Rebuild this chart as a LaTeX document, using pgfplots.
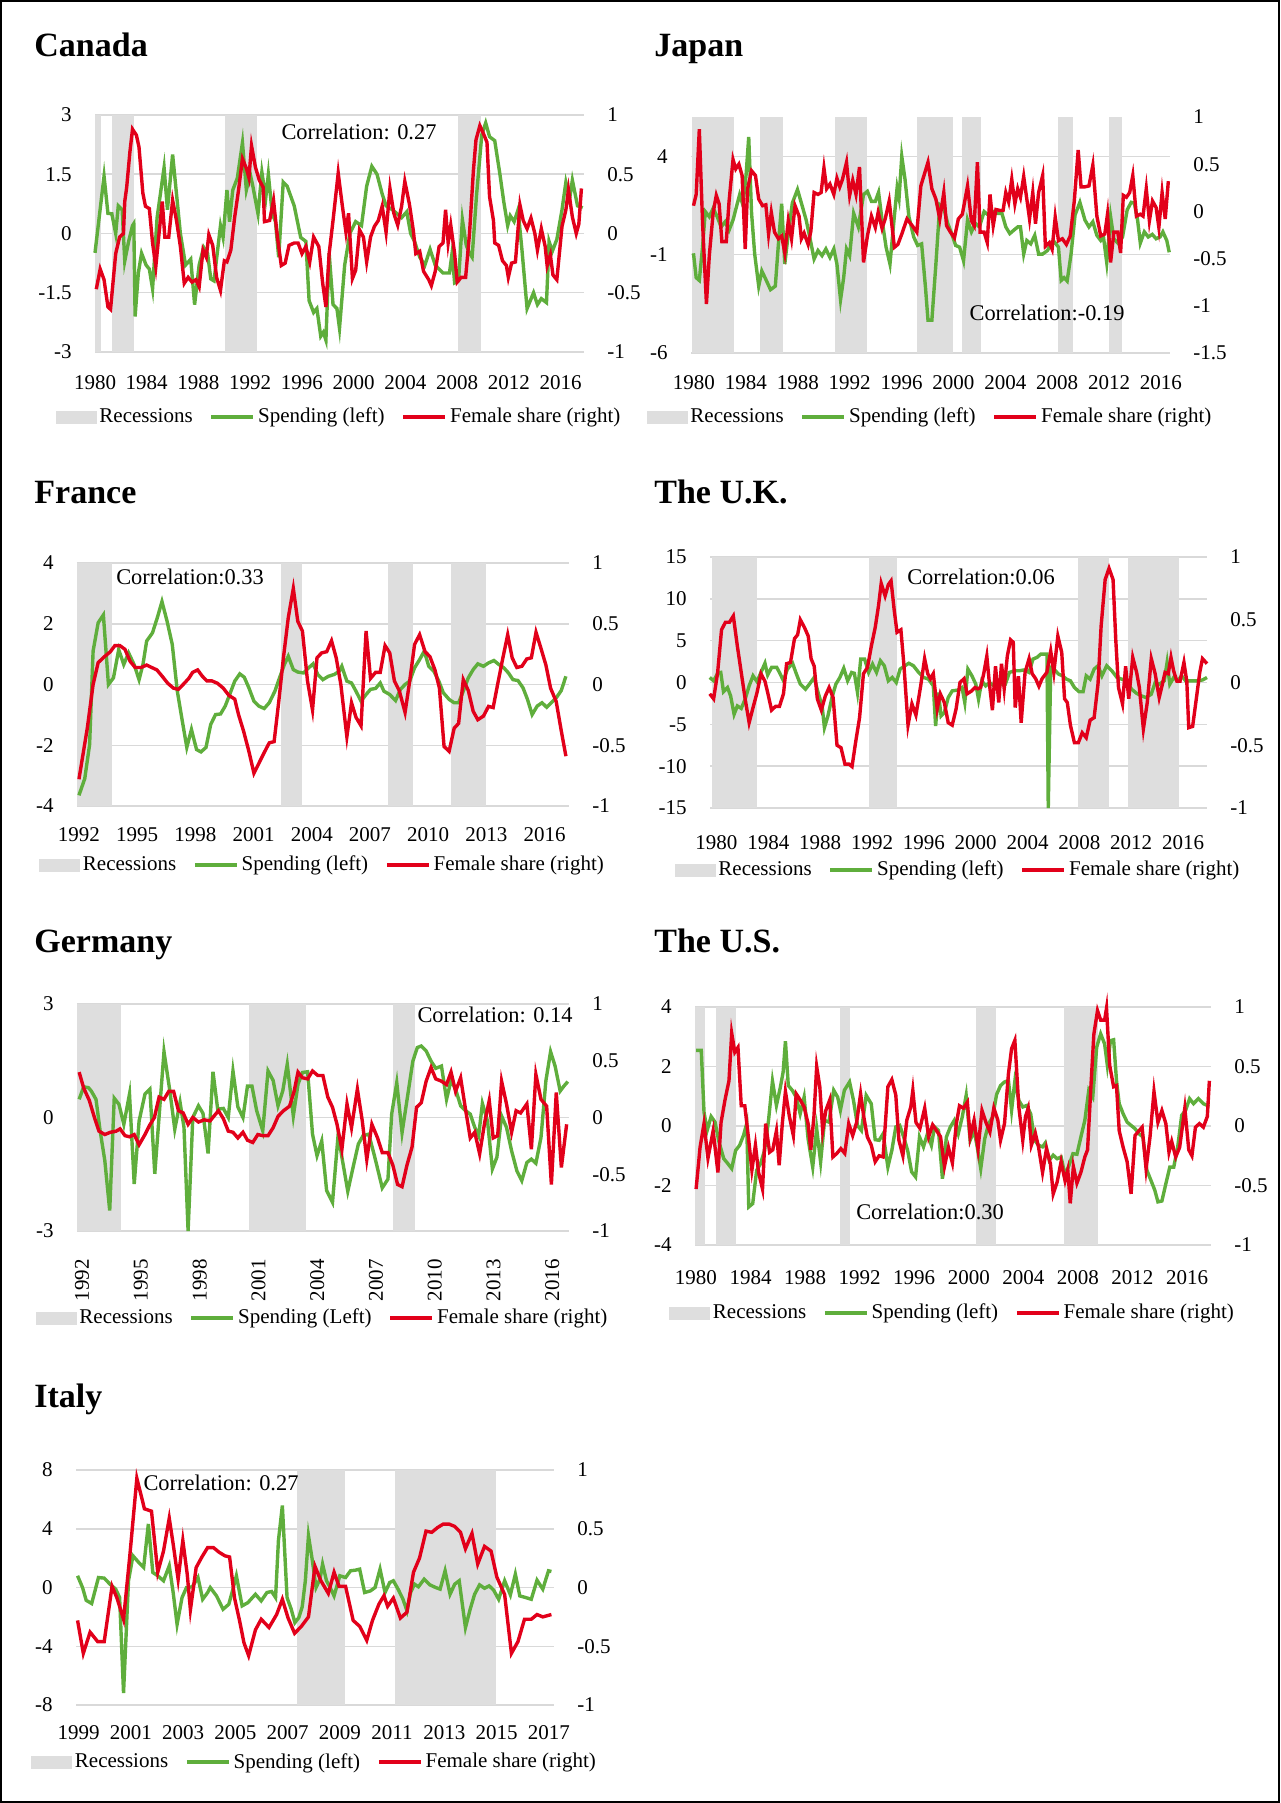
\documentclass[border=0pt]{standalone}
\usepackage{fontspec}
\setmainfont{Liberation Serif}
\usepackage{pgfplots}
\pgfplotsset{compat=1.18}

\definecolor{spendgreen}{HTML}{5FAE3C}
\definecolor{sharered}{HTML}{E2001A}
\definecolor{recgray}{HTML}{DEDEDE}
\definecolor{gridgray}{HTML}{D9D9D9}

\newcommand\tf{\fontsize{10.5}{12.5}\selectfont}
\newcommand\ttl{\fontsize{17}{20}\selectfont\bfseries}
\newcommand\corr{\fontsize{11.2}{13}\selectfont}
% recession band: start, end, ymin, ymax
\newcommand\rec[4]{\addplot[recband] coordinates {(#1,#3) (#1,#4) (#2,#4) (#2,#3)};}

\pgfplotsset{
  panel/.style={scale only axis, anchor=north west, clip=false,
    axis line style={draw=none}, major tick length=0pt,
    tick style={draw=none}, ticklabel style={font=\tf}},
  leftax/.style={panel, ymajorgrids, grid style={gridgray, line width=0.75pt},
    ytick pos=left, yticklabel pos=left, xtick pos=bottom,
    yticklabel style={anchor=east, inner sep=0pt, xshift=-11.5pt}},
  rightax/.style={panel, hide x axis, ytick pos=right, yticklabel pos=right,
    yticklabel style={anchor=west, inner sep=0pt, xshift=11.5pt},
    legend columns=3,
    legend image code/.code={\draw[##1] (0pt,0pt) -- (21pt,0pt);},
    legend style={draw=none, fill=none, font=\tf, inner sep=0pt,
      nodes={inner sep=1.5pt}, anchor=center,
      /tikz/every even column/.append style={column sep=7pt}}},
  recband/.style={fill=recgray, draw=none, forget plot},
  spend/.style={draw=spendgreen, line width=1.7pt},
  share/.style={draw=sharered, line width=1.7pt},
}

\newcommand\reclegend{%
  \addlegendimage{legend image code/.code={\fill[recgray] (0pt,-3pt) rectangle (20pt,3pt);}}
  \addlegendentry{Recessions}}

\begin{document}
\begin{tikzpicture}
\useasboundingbox (0,0) rectangle (640pt,-901.5pt);

% ================= Canada =================
\begin{axis}[leftax, at={(47.5pt,-57.5pt)}, width=244.5pt, height=118.5pt,
  xmin=1980, xmax=2017.8, ymin=-3, ymax=3,
  xtick={1980,1984,1988,1992,1996,2000,2004,2008,2012,2016},
  xticklabels={1980,1984,1988,1992,1996,2000,2004,2008,2012,2016},
  xticklabel style={anchor=center, yshift=-15.5pt},
  ytick={-3,-1.5,0,1.5,3}, yticklabels={-3,-1.5,0,1.5,3}]
\rec{1980.0}{1980.5}{-3}{3}
\rec{1981.3}{1983.0}{-3}{3}
\rec{1990.05}{1992.55}{-3}{3}
\rec{2008.05}{2009.85}{-3}{3}
\addplot[spend] coordinates {
(1980.0,-0.49)(1980.7,1.45)(1981.0,0.51)(1981.3,0.50)(1981.6,0.0)(1981.8,0.70)
(1982.1,0.60)(1982.3,-0.70)(1982.6,-0.20)(1982.9,0.20)(1983.0,0.25)(1983.1,-2.10)
(1983.35,-1.0)(1983.6,-0.5)(1983.95,-0.8)(1984.2,-0.9)(1984.45,-1.4)(1984.8,0.4)
(1985.34,1.67)(1985.6,0.6)(1986.0,2.0)(1986.6,0.0)(1987.0,-0.8)(1987.4,-0.65)
(1987.7,-1.8)(1988.05,-0.8)(1988.4,-0.35)(1988.7,-0.5)(1988.95,-1.15)(1989.2,-1.2)
(1989.7,0.2)(1989.9,-0.1)(1990.2,1.1)(1990.4,0.3)(1990.65,1.1)(1991.0,1.4)
(1991.4,2.3)(1991.7,1.1)(1992.0,1.5)(1992.2,1.2)(1992.6,0.5)(1992.9,1.55)
(1993.2,0.9)(1993.4,1.5)(1993.7,0.5)(1993.95,0.3)(1994.2,-0.6)(1994.55,1.3)
(1994.85,1.2)(1995.4,0.7)(1995.9,-0.1)(1996.3,-0.2)(1996.55,-1.7)(1996.9,-2.0)
(1997.15,-1.9)(1997.45,-2.6)(1997.65,-2.5)(1997.85,-2.7)(1998.1,-0.5)(1998.4,-1.8)
(1998.7,-1.9)(1998.9,-2.4)(1999.3,-0.8)(1999.7,0.0)(2000.15,0.3)(2000.6,0.2)
(2001.0,1.2)(2001.4,1.7)(2001.8,1.5)(2002.2,1.0)(2002.5,0.7)(2003.0,0.6)
(2003.35,0.5)(2003.7,0.4)(2004.1,0.55)(2004.4,0.0)(2004.7,-0.2)(2005.1,-0.6)
(2005.5,-0.8)(2005.9,-0.4)(2006.3,-0.8)(2006.6,-0.9)(2006.9,-1.0)(2007.4,-1.0)
(2007.6,-0.5)(2007.8,-1.25)(2008.1,-1.2)(2008.4,0.35)(2008.7,-0.3)(2008.95,-0.5)
(2009.15,-0.6)(2009.5,1.0)(2009.9,2.5)(2010.2,2.8)(2010.5,2.45)(2010.9,2.35)
(2011.3,1.5)(2011.6,0.8)(2011.9,0.2)(2012.1,0.45)(2012.4,0.3)(2012.7,0.6)
(2013.0,-0.4)(2013.4,-1.9)(2013.9,-1.5)(2014.2,-1.8)(2014.5,-1.65)(2014.9,-1.75)
(2015.1,-0.2)(2015.35,-0.45)(2015.7,-0.15)(2016.1,0.6)(2016.4,1.3)(2016.7,0.9)
(2016.9,1.35)(2017.3,0.7)(2017.7,0.65)};
\end{axis}
\begin{axis}[rightax, at={(47.5pt,-57.5pt)}, width=244.5pt, height=118.5pt,
  xmin=1980, xmax=2017.8, ymin=-1, ymax=1,
  ytick={-1,-0.5,0,0.5,1}, yticklabels={-1,-0.5,0,0.5,1},
  legend style={at={(axis description cs:0.5,-0.274)}}]
\reclegend
\addlegendimage{spend}\addlegendentry{Spending (left)}
\addplot[share] coordinates {
(1980.1,-0.47)(1980.4,-0.30)(1980.7,-0.39)(1981.0,-0.62)(1981.2,-0.64)(1981.6,-0.17)
(1981.9,-0.03)(1982.2,0.00)(1982.3,0.27)(1982.45,0.39)(1982.7,0.69)(1982.9,0.88)
(1983.2,0.83)(1983.4,0.73)(1983.7,0.34)(1983.9,0.23)(1984.2,0.21)(1984.45,-0.08)
(1984.7,-0.28)(1984.95,0.00)(1985.2,0.27)(1985.4,-0.03)(1985.7,-0.03)(1986.0,0.28)
(1986.3,0.11)(1986.6,-0.11)(1986.9,-0.42)(1987.2,-0.37)(1987.5,-0.41)(1987.8,-0.39)
(1988.05,-0.45)(1988.35,-0.14)(1988.6,-0.20)(1988.8,-0.01)(1989.1,-0.10)(1989.4,-0.37)
(1989.7,-0.48)(1990.0,-0.23)(1990.2,-0.24)(1990.5,-0.14)(1990.8,0.14)(1991.1,0.37)
(1991.4,0.63)(1991.7,0.55)(1991.9,0.47)(1992.1,0.74)(1992.4,0.56)(1992.7,0.45)
(1993.0,0.39)(1993.1,0.10)(1993.5,0.11)(1993.8,0.28)(1994.1,-0.03)(1994.4,-0.27)
(1994.7,-0.25)(1995.0,-0.10)(1995.4,-0.08)(1995.7,-0.08)(1996.0,-0.17)(1996.3,-0.11)
(1996.6,-0.24)(1996.9,-0.03)(1997.3,-0.11)(1997.6,-0.42)(1997.85,-0.62)(1998.1,-0.17)
(1998.4,0.11)(1998.8,0.51)(1999.1,0.25)(1999.4,0.01)(1999.6,0.17)(1999.9,-0.38)
(2000.15,-0.31)(2000.45,0.03)(2000.75,-0.03)(2001.0,-0.24)(2001.3,-0.03)(2001.6,0.06)
(2001.9,0.11)(2002.2,0.23)(2002.5,0.01)(2002.8,0.38)(2003.1,0.17)(2003.4,0.07)
(2003.7,0.23)(2003.95,0.44)(2004.3,0.25)(2004.6,0.03)(2004.8,-0.17)(2005.1,-0.15)
(2005.4,-0.32)(2005.8,-0.39)(2006.0,-0.44)(2006.3,-0.32)(2006.6,-0.11)(2006.9,-0.08)
(2007.1,0.20)(2007.3,-0.08)(2007.5,0.07)(2007.8,-0.17)(2008.0,-0.41)(2008.3,-0.37)
(2008.65,-0.37)(2008.95,0.00)(2009.25,0.53)(2009.45,0.79)(2009.75,0.91)(2010.0,0.85)
(2010.3,0.77)(2010.5,0.31)(2010.8,0.11)(2010.9,-0.08)(2011.2,-0.10)(2011.5,-0.23)
(2011.8,-0.27)(2011.95,-0.37)(2012.2,-0.25)(2012.5,-0.24)(2012.85,0.24)(2013.1,0.11)
(2013.4,0.04)(2013.7,0.13)(2014.0,0.00)(2014.2,-0.14)(2014.5,0.04)(2014.8,-0.11)
(2014.95,-0.27)(2015.2,-0.18)(2015.4,-0.35)(2015.7,-0.39)(2016.1,0.06)(2016.4,0.20)
(2016.6,0.37)(2016.9,0.14)(2017.2,0.00)(2017.4,0.08)(2017.6,0.38)};
\addlegendentry{Female share (right)}
\end{axis}

% ================= Japan =================
\begin{axis}[leftax, at={(345.5pt,-58.5pt)}, width=239.5pt, height=118pt,
  xmin=1979.77, xmax=2016.7, ymin=-6, ymax=6,
  xtick={1980,1984,1988,1992,1996,2000,2004,2008,2012,2016},
  xticklabels={1980,1984,1988,1992,1996,2000,2004,2008,2012,2016},
  xticklabel style={anchor=center, yshift=-15pt},
  ytick={-6,-1,4}, yticklabels={-6,-1,4}]
\rec{1979.86}{1983.07}{-6}{6}
\rec{1985.08}{1986.88}{-6}{6}
\rec{1990.87}{1993.37}{-6}{6}
\rec{1997.18}{1999.93}{-6}{6}
\rec{2000.69}{2002.12}{-6}{6}
\rec{2008.07}{2009.2}{-6}{6}
\rec{2012.03}{2012.98}{-6}{6}
\addplot[spend] coordinates {
(1979.96,-0.93)(1980.17,-2.17)(1980.41,-2.31)(1980.66,-0.62)(1980.87,1.19)(1981.18,0.93)
(1981.48,1.36)(1981.79,0.93)(1982.09,0.41)(1982.40,0.67)(1982.70,0.24)(1983.01,0.76)
(1983.31,1.53)(1983.52,2.05)(1983.77,1.53)(1984.01,3.0)(1984.22,4.98)(1984.44,1.10)
(1984.68,-0.97)(1984.99,-2.6)(1985.23,-1.83)(1985.54,-2.26)(1985.90,-2.78)(1986.27,-2.6)
(1986.51,-0.45)(1986.76,1.59)(1987.00,-1.48)(1987.27,0.07)(1987.58,1.62)(1987.98,2.31)
(1988.28,1.62)(1988.65,0.76)(1988.95,-0.19)(1989.26,-1.22)(1989.56,-0.79)(1989.87,-1.05)
(1990.17,-0.71)(1990.48,-1.14)(1990.78,-0.71)(1991.02,-1.48)(1991.30,-3.29)(1991.54,-2.17)
(1991.76,-0.71)(1992.00,-1.05)(1992.31,1.10)(1992.67,0.41)(1993.07,2.05)(1993.37,2.22)
(1993.68,1.71)(1993.98,1.71)(1994.23,2.17)(1994.50,0.76)(1994.81,-0.62)(1995.11,-1.48)
(1995.42,0.76)(1995.66,2.40)(1995.81,1.88)(1996.02,4.0)(1996.27,2.83)(1996.57,0.93)
(1996.94,-0.10)(1997.24,-0.53)(1997.55,-0.45)(1997.85,-2.69)(1998.04,-4.33)(1998.34,-4.33)
(1998.65,-1.48)(1998.95,1.53)(1999.26,1.36)(1999.56,0.59)(1999.87,0.07)(2000.17,-0.53)
(2000.48,-0.62)(2000.78,-1.31)(2001.09,0.76)(2001.39,0.16)(2001.70,0.59)(2002.00,0.41)
(2002.37,1.19)(2002.67,1.02)(2003.04,1.19)(2003.43,1.10)(2003.74,1.10)(2004.04,0.41)
(2004.35,0.07)(2004.65,0.24)(2004.96,0.41)(2005.17,0.41)(2005.42,-0.97)(2005.66,-0.28)
(2005.96,-0.45)(2006.27,-0.02)(2006.57,-0.97)(2006.88,-0.97)(2007.25,-0.79)(2007.70,-0.28)
(2008.10,-0.62)(2008.31,-2.31)(2008.53,-2.17)(2008.77,-2.34)(2009.07,-0.97)(2009.38,1.02)
(2009.75,1.66)(2010.14,0.76)(2010.45,0.41)(2010.75,0.67)(2011.06,-0.02)(2011.36,-0.28)
(2011.57,-0.10)(2011.82,-1.40)(2012.12,0.93)(2012.37,-0.19)(2012.73,-0.45)(2013.04,-0.10)
(2013.40,1.28)(2013.71,1.66)(2013.95,1.62)(2014.20,0.76)(2014.41,-0.41)(2014.72,0.16)
(2015.02,-0.10)(2015.33,0.03)(2015.63,-0.19)(2015.93,-0.10)(2016.15,0.16)(2016.45,-0.28)
(2016.64,-0.88)};
\end{axis}
\begin{axis}[rightax, at={(345.5pt,-58.5pt)}, width=239.5pt, height=118pt,
  xmin=1979.77, xmax=2016.7, ymin=-1.5, ymax=1,
  ytick={-1.5,-1,-0.5,0,0.5,1}, yticklabels={-1.5,-1,-0.5,0,0.5,1},
  legend style={at={(axis description cs:0.5,-0.271)}}]
\reclegend
\addlegendimage{spend}\addlegendentry{Spending (left)}
\addplot[share] coordinates {
(1979.96,0.06)(1980.17,0.18)(1980.41,0.87)(1980.66,-0.12)(1980.96,-0.98)(1981.18,-0.47)
(1981.48,-0.01)(1981.72,0.17)(1981.94,0.08)(1982.15,-0.32)(1982.49,-0.32)(1982.70,0.10)
(1983.01,0.55)(1983.22,0.45)(1983.46,0.50)(1983.71,0.38)(1983.95,-0.40)(1984.13,0.24)
(1984.44,0.43)(1984.74,0.38)(1984.99,0.13)(1985.29,0.06)(1985.54,0.07)(1985.75,-0.24)
(1985.96,-0.01)(1986.21,-0.22)(1986.51,-0.29)(1986.76,-0.26)(1987.00,-0.44)(1987.27,-0.10)
(1987.52,-0.29)(1987.79,0.06)(1988.10,-0.05)(1988.28,-0.29)(1988.49,-0.23)(1988.80,-0.35)
(1989.01,-0.21)(1989.26,0.20)(1989.56,0.18)(1989.80,0.20)(1990.02,0.46)(1990.23,0.24)
(1990.48,0.29)(1990.78,0.18)(1991.02,0.35)(1991.24,0.26)(1991.45,0.34)(1991.76,0.52)
(1992.00,0.17)(1992.24,0.33)(1992.49,0.18)(1992.76,0.47)(1993.07,-0.54)(1993.37,-0.26)
(1993.68,-0.05)(1993.98,-0.17)(1994.20,-0.01)(1994.50,-0.18)(1994.74,-0.08)(1995.05,0.11)
(1995.45,-0.38)(1995.72,-0.35)(1996.02,-0.24)(1996.42,-0.08)(1996.82,-0.15)(1997.18,-0.22)
(1997.49,0.27)(1997.73,0.38)(1998.04,0.52)(1998.34,0.24)(1998.65,0.13)(1998.95,-0.08)
(1999.26,0.20)(1999.47,-0.15)(1999.77,-0.22)(2000.08,-0.28)(2000.38,-0.08)(2000.69,-0.03)
(2001.09,0.27)(2001.39,-0.10)(2001.60,-0.15)(2001.85,0.52)(2002.06,-0.22)(2002.37,-0.22)
(2002.61,-0.33)(2002.82,0.18)(2003.07,-0.15)(2003.28,0.02)(2003.59,0.01)(2003.83,0.01)
(2004.04,0.20)(2004.26,0.10)(2004.50,0.34)(2004.74,0.08)(2004.96,0.24)(2005.17,0.15)
(2005.42,0.37)(2005.66,0.13)(2005.87,-0.08)(2006.12,0.20)(2006.33,-0.13)(2006.57,0.20)
(2006.88,0.38)(2007.09,-0.37)(2007.40,-0.33)(2007.61,-0.40)(2007.85,-0.06)(2008.10,-0.31)
(2008.40,-0.29)(2008.71,-0.35)(2009.01,-0.26)(2009.32,0.11)(2009.62,0.65)(2009.84,0.26)
(2010.14,0.26)(2010.45,0.27)(2010.75,0.49)(2011.06,-0.05)(2011.36,-0.26)(2011.67,-0.24)
(2011.88,-0.03)(2012.12,-0.54)(2012.37,-0.22)(2012.67,-0.22)(2012.89,-0.44)(2013.10,0.17)
(2013.34,0.15)(2013.59,0.20)(2013.83,0.38)(2014.11,-0.05)(2014.41,-0.03)(2014.62,-0.05)
(2014.87,0.24)(2015.11,-0.10)(2015.35,0.11)(2015.63,0.04)(2015.84,-0.17)(2016.09,0.20)
(2016.33,-0.08)(2016.57,0.32)};
\addlegendentry{Female share (right)}
\end{axis}

% ================= France =================
\begin{axis}[leftax, at={(38.5pt,-281.5pt)}, width=246pt, height=121.5pt,
  xmin=1991.9, xmax=2017.26, ymin=-4, ymax=4,
  xtick={1992,1995,1998,2001,2004,2007,2010,2013,2016},
  xticklabels={1992,1995,1998,2001,2004,2007,2010,2013,2016},
  xticklabel style={anchor=center, yshift=-14.5pt},
  ytick={-4,-2,0,2,4}, yticklabels={-4,-2,0,2,4}]
\rec{1991.9}{1993.72}{-4}{4}
\rec{2002.4}{2003.48}{-4}{4}
\rec{2007.92}{2009.2}{-4}{4}
\rec{2011.18}{2013.0}{-4}{4}
\addplot[spend] coordinates {
(1992.0,-3.65)(1992.3,-3.1)(1992.55,-1.98)(1992.73,1.1)(1992.99,2.03)(1993.26,2.29)
(1993.52,0.0)(1993.78,0.22)(1994.05,1.15)(1994.31,0.66)(1994.56,1.04)(1994.84,0.66)
(1995.1,0.16)(1995.3,0.66)(1995.49,1.43)(1995.79,1.70)(1996.04,2.2)(1996.28,2.73)
(1996.54,2.09)(1996.81,1.32)(1997.07,-0.22)(1997.33,-1.21)(1997.56,-2.07)(1997.8,-1.48)
(1998.06,-2.14)(1998.29,-2.22)(1998.55,-2.07)(1998.79,-1.32)(1999.04,-0.99)(1999.3,-0.97)
(1999.54,-0.71)(1999.77,-0.33)(2000.03,0.11)(2000.29,0.35)(2000.52,0.24)(2000.76,-0.11)
(2001.02,-0.55)(2001.27,-0.71)(2001.55,-0.79)(2001.81,-0.60)(2002.1,-0.22)(2002.34,0.22)
(2002.59,0.66)(2002.79,0.93)(2003.05,0.49)(2003.28,0.41)(2003.58,0.38)(2003.84,0.55)
(2004.07,0.68)(2004.31,0.33)(2004.57,0.16)(2004.86,0.27)(2005.16,0.33)(2005.42,0.44)
(2005.55,0.60)(2005.81,0.11)(2006.05,0.05)(2006.28,-0.22)(2006.54,-0.55)(2006.8,-0.33)
(2007.03,-0.16)(2007.29,-0.13)(2007.53,0.05)(2007.72,-0.22)(2008.02,-0.33)(2008.32,-0.53)
(2008.57,-0.16)(2008.81,0.0)(2009.05,0.11)(2009.3,0.55)(2009.56,0.82)(2009.8,1.10)
(2010.03,0.60)(2010.29,0.44)(2010.55,0.11)(2010.78,-0.27)(2011.08,-0.49)(2011.34,-0.60)
(2011.57,-0.60)(2011.81,-0.22)(2012.07,0.22)(2012.32,0.49)(2012.56,0.68)(2012.85,0.60)
(2013.11,0.71)(2013.39,0.79)(2013.64,0.66)(2013.9,0.55)(2014.14,0.38)(2014.37,0.16)
(2014.63,0.13)(2014.89,-0.11)(2015.12,-0.49)(2015.36,-0.99)(2015.62,-0.71)(2015.87,-0.60)
(2016.11,-0.75)(2016.35,-0.60)(2016.6,-0.44)(2016.86,-0.20)(2017.1,0.27)};
\end{axis}
\begin{axis}[rightax, at={(38.5pt,-281.5pt)}, width=246pt, height=121.5pt,
  xmin=1991.9, xmax=2017.26, ymin=-1, ymax=1,
  ytick={-1,-0.5,0,0.5,1}, yticklabels={-1,-0.5,0,0.5,1},
  legend style={at={(axis description cs:0.5,-0.243)}}]
\reclegend
\addlegendimage{spend}\addlegendentry{Spending (left)}
\addplot[share] coordinates {
(1992.0,-0.78)(1992.43,-0.36)(1992.73,0.0)(1992.99,0.18)(1993.32,0.23)(1993.62,0.27)
(1993.85,0.32)(1994.11,0.32)(1994.37,0.29)(1994.64,0.19)(1994.9,0.14)(1995.2,0.14)
(1995.49,0.16)(1995.75,0.14)(1996.02,0.12)(1996.28,0.07)(1996.58,0.01)(1996.87,-0.03)
(1997.13,-0.04)(1997.37,0.0)(1997.66,0.05)(1997.86,0.10)(1998.12,0.12)(1998.35,0.07)
(1998.59,0.03)(1998.85,0.03)(1999.14,0.01)(1999.44,-0.03)(1999.73,-0.09)(2000.03,-0.12)
(2000.23,-0.25)(2000.48,-0.38)(2000.76,-0.55)(2001.02,-0.73)(2001.27,-0.65)(2001.55,-0.56)
(2001.81,-0.48)(2002.06,-0.47)(2002.3,-0.14)(2002.54,0.22)(2002.79,0.55)(2003.05,0.79)
(2003.28,0.52)(2003.52,0.44)(2003.78,0.03)(2004.04,-0.21)(2004.27,0.22)(2004.51,0.26)
(2004.77,0.27)(2005.02,0.36)(2005.26,0.22)(2005.5,0.0)(2005.81,-0.43)(2006.05,-0.15)
(2006.28,-0.27)(2006.54,-0.34)(2006.8,0.44)(2007.03,0.05)(2007.29,0.10)(2007.53,0.10)
(2007.78,0.32)(2008.02,0.26)(2008.26,0.03)(2008.51,-0.05)(2008.81,-0.23)(2009.05,0.03)
(2009.3,0.33)(2009.56,0.41)(2009.84,0.27)(2010.09,0.23)(2010.35,0.12)(2010.58,-0.03)
(2010.82,-0.51)(2011.08,-0.55)(2011.34,-0.36)(2011.57,-0.32)(2011.81,0.04)(2012.07,-0.05)
(2012.32,-0.22)(2012.56,-0.29)(2012.85,-0.26)(2013.11,-0.18)(2013.35,-0.19)(2013.58,0.0)
(2013.84,0.21)(2014.1,0.41)(2014.33,0.22)(2014.57,0.14)(2014.83,0.15)(2015.08,0.21)
(2015.32,0.22)(2015.56,0.43)(2015.81,0.30)(2016.07,0.16)(2016.31,-0.03)(2016.6,-0.14)
(2016.86,-0.38)(2017.1,-0.59)};
\addlegendentry{Female share (right)}
\end{axis}

% ================= The U.K. =================
\begin{axis}[leftax, at={(355pt,-278.5pt)}, width=248.5pt, height=125.5pt,
  xmin=1979.5, xmax=2017.85, ymin=-15, ymax=15,
  xtick={1980,1984,1988,1992,1996,2000,2004,2008,2012,2016},
  xticklabels={1980,1984,1988,1992,1996,2000,2004,2008,2012,2016},
  xticklabel style={anchor=center, yshift=-17.5pt},
  ytick={-15,-10,-5,0,5,10,15}, yticklabels={-15,-10,-5,0,5,10,15}]
\rec{1979.69}{1983.13}{-15}{15}
\rec{1991.8}{1993.93}{-15}{15}
\rec{2007.86}{2010.29}{-15}{15}
\rec{2011.72}{2015.68}{-15}{15}
\addplot[spend] coordinates {
(1979.48,0.6)(1979.78,0.2)(1980.09,1.1)(1980.33,1.2)(1980.54,-1.1)(1980.85,-0.6)
(1981.09,-1.6)(1981.36,-3.8)(1981.61,-2.8)(1981.91,-3.1)(1982.21,-2.0)(1982.52,-0.4)
(1982.82,0.8)(1983.13,0.1)(1983.43,1.2)(1983.74,2.3)(1983.95,0.9)(1984.25,1.8)
(1984.65,1.8)(1984.86,1.2)(1985.17,0.2)(1985.47,1.6)(1985.87,2.3)(1986.17,1.0)
(1986.47,-0.2)(1986.87,-0.8)(1987.17,-0.2)(1987.54,0.6)(1987.84,-1.2)(1988.15,-2.8)
(1988.33,-5.4)(1988.6,-4.0)(1988.91,-1.8)(1989.21,-0.2)(1989.52,0.6)(1989.82,1.7)
(1990.12,0.2)(1990.43,1.2)(1990.64,1.1)(1990.88,-1.2)(1991.13,2.8)(1991.43,2.8)
(1991.74,1.2)(1992.04,2.2)(1992.35,1.2)(1992.65,2.6)(1992.95,2.0)(1993.26,0.2)
(1993.56,0.6)(1993.87,0.0)(1994.17,1.6)(1994.54,2.0)(1994.84,2.3)(1995.2,2.0)
(1995.6,1.2)(1995.99,0.6)(1996.36,0.4)(1996.73,-0.4)(1996.91,-5.2)(1997.12,-1.2)
(1997.33,-4.0)(1997.58,-3.6)(1997.88,-1.8)(1998.19,-1.0)(1998.64,-0.9)(1998.95,-0.6)
(1999.16,-2.4)(1999.4,1.6)(1999.71,0.8)(2000.01,-0.2)(2000.22,-2.0)(2000.47,0.2)
(2000.77,-0.4)(2001.08,0.0)(2001.38,-0.4)(2001.68,0.2)(2001.99,-0.2)(2002.29,-0.2)
(2002.6,1.2)(2002.99,1.4)(2003.36,1.4)(2003.72,1.5)(2004.12,1.2)(2004.42,2.8)
(2004.73,3.0)(2005.03,3.4)(2005.33,3.4)(2005.5,3.4)(2005.6,-15.0)(2005.79,1.8)
(2006.03,1.6)(2006.4,1.0)(2006.7,0.8)(2007.01,0.4)(2007.31,0.2)(2007.62,-0.6)
(2007.98,-1.1)(2008.29,-1.1)(2008.53,0.8)(2008.83,0.4)(2009.14,1.6)(2009.44,2.0)
(2009.74,0.8)(2010.11,2.0)(2010.51,1.4)(2010.9,0.6)(2011.27,0.4)(2011.63,0.2)
(2012.03,-0.8)(2012.42,-1.3)(2012.79,-1.6)(2013.15,-1.8)(2013.55,-1.4)(2013.85,0.0)
(2014.16,-0.2)(2014.55,0.2)(2014.77,2.4)(2014.98,-0.2)(2015.28,0.6)(2015.59,0.2)
(2015.89,0.8)(2016.2,0.2)(2016.59,0.2)(2017.05,0.2)(2017.5,0.3)(2017.85,0.6)};
\end{axis}
\begin{axis}[rightax, at={(355pt,-278.5pt)}, width=248.5pt, height=125.5pt,
  xmin=1979.5, xmax=2017.85, ymin=-1, ymax=1,
  ytick={-1,-0.5,0,0.5,1}, yticklabels={-1,-0.5,0,0.5,1},
  legend style={at={(axis description cs:0.5,-0.247)}}]
\reclegend
\addlegendimage{spend}\addlegendentry{Spending (left)}
\addplot[share] coordinates {
(1979.48,-0.09)(1979.78,-0.13)(1980.09,0.08)(1980.39,0.42)(1980.69,0.48)(1981.0,0.48)
(1981.3,0.53)(1981.61,0.29)(1981.91,0.08)(1982.21,-0.13)(1982.52,-0.32)(1982.82,-0.20)
(1983.13,-0.08)(1983.43,0.07)(1983.74,0.01)(1983.95,-0.08)(1984.25,-0.22)(1984.56,-0.19)
(1984.86,-0.19)(1985.17,-0.09)(1985.41,0.15)(1985.71,0.16)(1986.02,0.35)(1986.26,0.38)
(1986.47,0.50)(1986.78,0.44)(1987.08,0.37)(1987.3,0.19)(1987.54,0.13)(1987.78,-0.13)
(1988.09,-0.22)(1988.39,-0.11)(1988.69,-0.04)(1989.0,-0.12)(1989.3,-0.50)(1989.61,-0.52)
(1989.91,-0.65)(1990.22,-0.65)(1990.46,-0.67)(1990.73,-0.48)(1991.04,-0.28)(1991.34,0.07)
(1991.65,0.12)(1991.95,0.29)(1992.25,0.44)(1992.5,0.61)(1992.71,0.79)(1993.01,0.69)
(1993.26,0.78)(1993.47,0.81)(1993.71,0.58)(1993.93,0.40)(1994.23,0.42)(1994.47,0.13)
(1994.78,-0.34)(1995.08,-0.17)(1995.39,-0.26)(1995.75,-0.03)(1996.06,0.19)(1996.3,0.07)
(1996.51,0.03)(1996.73,0.07)(1997.03,-0.21)(1997.27,-0.09)(1997.58,-0.16)(1997.88,-0.32)
(1998.19,-0.34)(1998.49,-0.21)(1998.79,0.00)(1999.1,0.03)(1999.34,-0.09)(1999.65,-0.07)
(1999.95,-0.04)(2000.16,-0.05)(2000.38,-0.04)(2000.62,0.07)(2000.86,0.21)(2001.08,-0.03)
(2001.29,-0.22)(2001.53,0.13)(2001.78,-0.16)(2001.99,0.15)(2002.2,-0.05)(2002.44,0.21)
(2002.69,0.34)(2002.9,0.32)(2003.05,-0.20)(2003.3,0.05)(2003.51,-0.32)(2003.81,0.08)
(2004.12,0.19)(2004.36,0.07)(2004.63,0.03)(2004.88,-0.03)(2005.12,0.03)(2005.49,0.08)
(2005.79,0.25)(2006.03,0.08)(2006.34,0.37)(2006.64,0.24)(2006.86,-0.13)(2007.07,-0.16)
(2007.31,-0.34)(2007.62,-0.48)(2007.92,-0.48)(2008.22,-0.40)(2008.53,-0.44)(2008.83,-0.30)
(2009.14,-0.28)(2009.44,-0.01)(2009.68,0.45)(2009.99,0.82)(2010.29,0.91)(2010.6,0.82)
(2010.81,0.34)(2011.02,-0.04)(2011.33,-0.17)(2011.57,0.13)(2011.81,-0.13)(2012.12,0.20)
(2012.42,0.08)(2012.63,-0.04)(2012.94,-0.37)(2013.24,-0.16)(2013.55,0.19)(2013.85,0.07)
(2014.16,-0.12)(2014.37,-0.03)(2014.61,0.08)(2014.86,0.07)(2015.07,0.20)(2015.28,0.09)
(2015.53,0.01)(2015.77,0.01)(2016.07,0.16)(2016.29,0.01)(2016.44,-0.36)(2016.74,-0.35)
(2017.05,-0.11)(2017.29,0.08)(2017.5,0.19)(2017.85,0.15)};
\addlegendentry{Female share (right)}
\end{axis}

% ================= Germany =================
\begin{axis}[leftax, at={(38.5pt,-502pt)}, width=246pt, height=113.5pt,
  xmin=1991.74, xmax=2016.85, ymin=-3, ymax=3,
  xtick={1992,1995,1998,2001,2004,2007,2010,2013,2016},
  xticklabels={1992,1995,1998,2001,2004,2007,2010,2013,2016},
  xticklabel style={anchor=east, yshift=-10.5pt, rotate=90},
  ytick={-3,0,3}, yticklabels={-3,0,3}]
\rec{1991.74}{1993.99}{-3}{3}
\rec{2000.54}{2003.41}{-3}{3}
\rec{2007.86}{2008.97}{-3}{3}
\addplot[spend] coordinates {
(1991.85,0.48)(1992.08,0.81)(1992.32,0.79)(1992.47,0.70)(1992.71,0.48)(1992.92,-0.35)
(1993.16,-1.14)(1993.41,-2.46)(1993.64,0.51)(1993.88,0.35)(1994.13,-0.18)(1994.42,0.62)
(1994.66,-1.76)(1994.91,-0.09)(1995.21,0.62)(1995.46,0.75)(1995.71,-1.49)(1995.99,0.44)
(1996.18,1.74)(1996.48,0.70)(1996.73,-0.31)(1997.0,0.40)(1997.2,-0.26)(1997.41,-3.0)
(1997.65,0.0)(1997.94,0.31)(1998.17,0.11)(1998.43,-0.95)(1998.68,1.21)(1998.92,0.22)
(1999.21,0.24)(1999.46,0.0)(1999.7,1.23)(1999.95,0.28)(2000.21,0.0)(2000.44,0.83)
(2000.67,0.83)(2000.91,0.18)(2001.22,-0.35)(2001.49,1.23)(2001.75,0.98)(2002.0,0.31)
(2002.24,0.70)(2002.47,1.41)(2002.78,0.04)(2003.02,0.88)(2003.25,1.19)(2003.51,1.21)
(2003.76,-0.44)(2003.99,-1.01)(2004.23,-0.62)(2004.48,-1.93)(2004.78,-2.24)(2005.07,-0.44)
(2005.26,-1.05)(2005.56,-1.95)(2005.85,-1.27)(2006.1,-0.70)(2006.34,-0.48)(2006.63,-0.44)
(2006.92,-1.01)(2007.32,-1.86)(2007.61,-1.63)(2007.8,0.09)(2008.06,0.92)(2008.33,-0.40)
(2008.64,0.66)(2008.88,1.49)(2009.11,1.85)(2009.31,1.89)(2009.56,1.76)(2009.81,1.49)
(2010.05,1.30)(2010.34,1.36)(2010.6,0.48)(2010.83,0.98)(2011.06,0.75)(2011.32,0.31)
(2011.57,0.18)(2011.81,0.09)(2012.04,-0.26)(2012.24,-0.48)(2012.43,0.37)(2012.69,-0.09)
(2012.94,-1.36)(2013.17,-1.05)(2013.41,0.04)(2013.66,-0.26)(2013.92,-0.88)(2014.19,-1.41)
(2014.44,-1.67)(2014.7,-1.19)(2014.93,-1.10)(2015.16,-1.21)(2015.42,-0.53)(2015.67,0.97)
(2015.91,1.74)(2016.14,1.36)(2016.4,0.70)(2016.59,0.83)(2016.79,0.95)};
\end{axis}
\begin{axis}[rightax, at={(38.5pt,-502pt)}, width=246pt, height=113.5pt,
  xmin=1991.74, xmax=2016.85, ymin=-1, ymax=1,
  ytick={-1,-0.5,0,0.5,1}, yticklabels={-1,-0.5,0,0.5,1},
  legend style={at={(axis description cs:0.5,-0.383)}}]
\reclegend
\addlegendimage{spend}\addlegendentry{Spending (Left)}
\addplot[share] coordinates {
(1991.85,0.40)(1992.08,0.26)(1992.37,0.15)(1992.63,0.0)(1992.86,-0.12)(1993.16,-0.15)
(1993.45,-0.13)(1993.74,-0.12)(1993.94,-0.10)(1994.19,-0.16)(1994.42,-0.17)(1994.66,-0.15)
(1994.91,-0.24)(1995.21,-0.15)(1995.44,-0.07)(1995.69,0.0)(1995.93,0.18)(1996.18,0.16)
(1996.42,0.23)(1996.67,0.23)(1996.92,0.06)(1997.16,0.04)(1997.41,-0.06)(1997.65,0.0)
(1997.94,-0.04)(1998.23,-0.02)(1998.53,-0.03)(1998.72,0.01)(1998.96,0.06)(1999.21,-0.01)
(1999.46,-0.12)(1999.7,-0.13)(1999.95,-0.18)(2000.21,-0.13)(2000.44,-0.20)(2000.71,-0.22)
(2000.97,-0.15)(2001.22,-0.16)(2001.49,-0.16)(2001.75,-0.09)(2002.0,0.01)(2002.28,0.06)
(2002.59,0.10)(2002.82,0.23)(2003.02,0.40)(2003.25,0.35)(2003.51,0.34)(2003.76,0.41)
(2004.03,0.37)(2004.29,0.37)(2004.54,0.18)(2004.78,0.09)(2005.01,-0.06)(2005.26,-0.28)
(2005.52,0.12)(2005.75,-0.09)(2006.05,0.25)(2006.3,-0.03)(2006.53,-0.37)(2006.79,-0.06)
(2007.08,-0.18)(2007.32,-0.31)(2007.61,-0.31)(2007.86,-0.42)(2008.1,-0.59)(2008.33,-0.61)
(2008.58,-0.42)(2008.84,-0.26)(2009.07,0.09)(2009.31,0.13)(2009.56,0.32)(2009.81,0.44)
(2010.05,0.34)(2010.34,0.32)(2010.6,0.29)(2010.83,0.40)(2011.06,0.23)(2011.32,0.35)
(2011.57,0.07)(2011.81,-0.18)(2012.04,-0.13)(2012.29,-0.32)(2012.55,-0.04)(2012.78,0.15)
(2012.98,-0.18)(2013.21,-0.16)(2013.41,0.32)(2013.66,0.12)(2013.92,-0.13)(2014.15,0.06)
(2014.38,0.04)(2014.7,0.12)(2014.93,-0.28)(2015.16,0.38)(2015.42,0.16)(2015.71,0.10)
(2015.95,-0.59)(2016.2,0.22)(2016.46,-0.44)(2016.73,-0.06)};
\addlegendentry{Female share (right)}
\end{axis}

% ================= The U.S. =================
\begin{axis}[leftax, at={(347.5pt,-503.5pt)}, width=258pt, height=119pt,
  xmin=1979.93, xmax=2017.76, ymin=-4, ymax=4,
  xtick={1980,1984,1988,1992,1996,2000,2004,2008,2012,2016},
  xticklabels={1980,1984,1988,1992,1996,2000,2004,2008,2012,2016},
  xticklabel style={anchor=center, yshift=-16.5pt},
  ytick={-4,-2,0,2,4}, yticklabels={-4,-2,0,2,4}]
\rec{1979.95}{1980.68}{-4}{4}
\rec{1981.49}{1982.97}{-4}{4}
\rec{1990.53}{1991.26}{-4}{4}
\rec{2000.54}{2001.98}{-4}{4}
\rec{2007.0}{2009.44}{-4}{4}
\addplot[spend] coordinates {
(1980.01,2.54)(1980.39,2.54)(1980.59,0.47)(1980.82,-0.15)(1981.11,0.32)(1981.4,0.13)
(1981.69,-0.54)(1982.04,-1.10)(1982.33,-1.26)(1982.62,-1.43)(1982.91,-0.82)(1983.2,-0.65)
(1983.49,-0.31)(1983.72,0.08)(1983.87,-2.72)(1984.16,-2.61)(1984.45,-1.49)(1984.74,-1.26)
(1985.03,-0.82)(1985.32,0.19)(1985.61,1.51)(1985.9,0.69)(1986.19,1.31)(1986.39,1.81)
(1986.56,2.85)(1986.77,1.36)(1987.06,1.20)(1987.35,0.97)(1987.64,0.41)(1987.93,0.97)
(1988.22,-0.43)(1988.56,-1.38)(1988.85,-0.09)(1989.14,-1.21)(1989.43,0.19)(1989.75,0.13)
(1990.1,1.20)(1990.39,0.97)(1990.59,0.53)(1990.88,1.20)(1991.26,1.48)(1991.55,0.86)
(1991.84,0.02)(1992.13,-0.15)(1992.48,1.03)(1992.85,0.75)(1993.14,-0.46)(1993.43,-0.48)
(1993.72,-0.26)(1994.07,-1.38)(1994.36,-0.82)(1994.65,-0.03)(1994.94,0.02)(1995.23,-0.37)
(1995.52,-0.82)(1995.81,-1.54)(1996.1,-1.71)(1996.39,-0.37)(1996.68,-0.70)(1996.97,-0.26)
(1997.26,-0.65)(1997.49,-0.03)(1997.78,-0.15)(1998.07,-1.77)(1998.36,-0.37)(1998.65,-0.03)
(1998.94,0.19)(1999.23,-0.26)(1999.52,0.30)(1999.81,1.03)(2000.1,-0.48)(2000.39,-0.15)
(2000.62,-0.70)(2000.88,-1.43)(2001.17,-0.43)(2001.46,0.08)(2001.75,0.30)(2002.04,1.06)
(2002.33,1.36)(2002.62,1.48)(2002.91,1.53)(2003.14,0.53)(2003.38,1.51)(2003.67,0.86)
(2003.96,0.64)(2004.25,0.69)(2004.54,0.41)(2004.83,-0.48)(2005.12,-0.65)(2005.41,-0.70)
(2005.61,-0.57)(2005.9,-1.15)(2006.19,-0.98)(2006.48,-1.10)(2006.77,-1.04)(2007.06,-1.66)
(2007.35,-1.32)(2007.64,-0.93)(2007.93,-0.95)(2008.22,-0.37)(2008.51,0.19)(2008.8,1.20)
(2009.09,0.97)(2009.38,2.65)(2009.67,3.10)(2009.96,2.76)(2010.16,2.04)(2010.39,2.87)
(2010.62,2.90)(2010.83,1.53)(2011.03,0.75)(2011.32,0.41)(2011.61,0.13)(2011.9,0.02)
(2012.19,-0.09)(2012.48,-0.26)(2012.77,-0.37)(2013.06,-1.49)(2013.35,-1.82)(2013.64,-2.16)
(2013.87,-2.55)(2014.16,-2.52)(2014.45,-1.94)(2014.74,-1.38)(2015.03,-1.38)(2015.32,-0.70)
(2015.61,0.36)(2015.9,0.53)(2016.19,0.92)(2016.48,0.75)(2016.83,0.92)(2017.2,0.75)
(2017.64,0.66)};
\end{axis}
\begin{axis}[rightax, at={(347.5pt,-503.5pt)}, width=258pt, height=119pt,
  xmin=1979.93, xmax=2017.76, ymin=-1, ymax=1,
  ytick={-1,-0.5,0,0.5,1}, yticklabels={-1,-0.5,0,0.5,1},
  legend style={at={(axis description cs:0.5,-0.286)}}]
\reclegend
\addlegendimage{spend}\addlegendentry{Spending (left)}
\addplot[share] coordinates {
(1980.01,-0.53)(1980.3,-0.18)(1980.59,0.02)(1980.88,-0.27)(1981.26,-0.04)(1981.61,-0.39)
(1981.84,0.03)(1982.13,0.22)(1982.42,0.38)(1982.62,0.78)(1982.85,0.62)(1983.08,0.66)
(1983.32,0.17)(1983.58,0.17)(1983.87,-0.12)(1984.1,-0.37)(1984.36,-0.16)(1984.59,-0.39)
(1984.88,-0.53)(1985.11,0.02)(1985.4,-0.22)(1985.63,-0.20)(1985.9,-0.04)(1986.1,-0.33)
(1986.33,0.02)(1986.56,0.29)(1986.85,0.08)(1987.14,-0.08)(1987.35,0.27)(1987.64,0.22)
(1987.93,0.16)(1988.22,0.02)(1988.42,-0.20)(1988.65,0.08)(1988.85,0.50)(1989.08,0.33)
(1989.29,-0.04)(1989.52,0.13)(1989.81,0.22)(1990.04,-0.26)(1990.33,-0.23)(1990.62,-0.19)
(1990.91,-0.23)(1991.2,0.02)(1991.49,-0.08)(1991.78,0.03)(1992.07,0.27)(1992.3,0.08)
(1992.56,-0.09)(1992.85,-0.16)(1993.14,-0.30)(1993.43,-0.25)(1993.72,-0.26)(1994.07,0.33)
(1994.36,0.39)(1994.65,0.26)(1994.88,-0.12)(1995.17,-0.25)(1995.46,0.05)(1995.75,0.16)
(1995.9,0.30)(1996.13,0.03)(1996.42,-0.02)(1996.77,0.15)(1997.06,-0.09)(1997.35,0.01)
(1997.64,-0.04)(1997.93,-0.09)(1998.22,-0.34)(1998.51,-0.18)(1998.8,-0.31)(1999.09,0.02)
(1999.32,0.17)(1999.61,0.15)(1999.9,0.20)(2000.1,-0.09)(2000.39,0.05)(2000.68,-0.19)
(2000.97,0.13)(2001.26,0.03)(2001.55,-0.05)(2001.84,0.15)(2002.13,0.05)(2002.33,-0.12)
(2002.62,0.02)(2002.91,0.44)(2003.14,0.65)(2003.38,0.72)(2003.67,0.16)(2003.96,-0.12)
(2004.16,0.08)(2004.36,0.15)(2004.59,-0.16)(2004.88,-0.06)(2005.12,-0.18)(2005.41,-0.39)
(2005.7,-0.19)(2005.99,-0.32)(2006.19,-0.57)(2006.48,-0.47)(2006.77,-0.30)(2007.06,-0.46)
(2007.26,-0.37)(2007.44,-0.65)(2007.67,-0.34)(2007.93,-0.48)(2008.22,-0.39)(2008.51,-0.26)
(2008.71,-0.20)(2008.94,0.30)(2009.17,0.77)(2009.44,0.97)(2009.67,0.89)(2009.96,0.89)
(2010.1,0.99)(2010.33,0.51)(2010.62,0.33)(2010.83,0.34)(2011.03,-0.04)(2011.32,-0.18)
(2011.61,-0.30)(2011.9,-0.57)(2012.19,-0.08)(2012.48,-0.04)(2012.71,-0.01)(2013.0,-0.36)
(2013.29,-0.09)(2013.58,0.29)(2013.87,0.03)(2014.16,0.13)(2014.45,0.02)(2014.68,-0.22)
(2014.88,-0.13)(2015.17,-0.26)(2015.46,-0.18)(2015.84,0.15)(2016.13,-0.20)(2016.36,-0.25)
(2016.62,-0.01)(2016.91,0.02)(2017.2,-0.01)(2017.49,0.08)(2017.64,0.38)};
\addlegendentry{Female share (right)}
\end{axis}

% ================= Italy =================
\begin{axis}[leftax, at={(38pt,-735pt)}, width=239pt, height=117.5pt,
  xmin=1998.9, xmax=2017.2, ymin=-8, ymax=8,
  xtick={1999,2001,2003,2005,2007,2009,2011,2013,2015,2017},
  xticklabels={1999,2001,2003,2005,2007,2009,2011,2013,2015,2017},
  xticklabel style={anchor=center, yshift=-14pt},
  ytick={-8,-4,0,4,8}, yticklabels={-8,-4,0,4,8}]
\rec{2007.36}{2009.19}{-8}{8}
\rec{2011.1}{2014.98}{-8}{8}
\addplot[spend] coordinates {
(1998.96,0.80)(1999.15,0.0)(1999.29,-0.87)(1999.5,-1.09)(1999.76,0.68)(1999.98,0.64)
(2000.2,0.23)(2000.42,-0.11)(2000.57,-0.68)(2000.72,-7.18)(2000.91,0.46)(2001.08,2.16)
(2001.3,1.71)(2001.49,1.37)(2001.67,4.33)(2001.84,1.03)(2002.03,0.80)(2002.25,0.46)
(2002.47,1.48)(2002.62,-0.34)(2002.77,-2.51)(2002.96,-0.68)(2003.13,0.0)(2003.35,0.05)
(2003.57,0.68)(2003.75,-0.80)(2003.94,-0.34)(2004.04,0.0)(2004.28,-0.57)(2004.53,-1.48)
(2004.75,-1.14)(2004.89,-0.23)(2005.04,0.80)(2005.26,-1.25)(2005.48,-1.03)(2005.77,-0.46)
(2005.99,-0.91)(2006.21,-0.34)(2006.39,-0.27)(2006.54,-0.68)(2006.65,3.19)(2006.8,5.58)
(2006.98,-0.68)(2007.14,-1.48)(2007.28,-2.39)(2007.43,-2.05)(2007.56,-1.32)(2007.68,0.46)
(2007.8,3.53)(2007.94,1.94)(2008.09,0.0)(2008.24,0.57)(2008.34,1.59)(2008.49,0.46)
(2008.63,0.0)(2008.78,-0.57)(2009.0,0.80)(2009.22,0.68)(2009.41,1.14)(2009.59,1.18)
(2009.76,1.25)(2009.95,-0.34)(2010.17,-0.23)(2010.35,0.0)(2010.54,1.25)(2010.73,-0.34)
(2010.91,0.34)(2011.05,0.46)(2011.23,-0.11)(2011.42,-0.80)(2011.57,-1.59)(2011.71,-0.34)
(2011.86,0.23)(2012.01,0.05)(2012.23,0.57)(2012.45,0.18)(2012.67,0.0)(2012.84,-0.11)
(2013.03,1.14)(2013.22,-0.46)(2013.4,0.23)(2013.57,0.46)(2013.81,-2.73)(2013.99,-1.48)
(2014.16,-0.46)(2014.35,0.18)(2014.54,-0.05)(2014.72,0.11)(2014.89,-0.18)(2015.08,-0.80)
(2015.31,0.46)(2015.53,-0.50)(2015.72,0.91)(2015.89,-0.57)(2016.11,-0.68)(2016.33,-0.80)
(2016.55,0.50)(2016.77,-0.11)(2016.99,1.14)(2017.1,1.09)};
\end{axis}
\begin{axis}[rightax, at={(38pt,-735pt)}, width=239pt, height=117.5pt,
  xmin=1998.9, xmax=2017.2, ymin=-1, ymax=1,
  ytick={-1,-0.5,0,0.5,1}, yticklabels={-1,-0.5,0,0.5,1},
  legend style={at={(axis description cs:0.5,-0.243)}}]
\reclegend
\addlegendimage{spend}\addlegendentry{Spending (left)}
\addplot[share] coordinates {
(1998.96,-0.28)(1999.18,-0.56)(1999.44,-0.38)(1999.73,-0.46)(1999.98,-0.46)(2000.28,0.01)
(2000.47,-0.09)(2000.72,-0.27)(2000.96,0.27)(2001.23,0.93)(2001.52,0.67)(2001.79,0.65)
(2002.03,0.13)(2002.25,0.31)(2002.47,0.59)(2002.62,0.37)(2002.81,0.07)(2002.99,0.40)
(2003.16,0.11)(2003.28,-0.19)(2003.5,0.17)(2003.72,0.26)(2003.94,0.34)(2004.16,0.34)
(2004.38,0.30)(2004.6,0.27)(2004.78,0.26)(2004.97,-0.09)(2005.16,-0.28)(2005.33,-0.47)
(2005.51,-0.58)(2005.77,-0.36)(2005.99,-0.27)(2006.29,-0.34)(2006.58,-0.23)(2006.8,-0.10)
(2007.02,-0.26)(2007.27,-0.39)(2007.53,-0.33)(2007.8,-0.25)(2008.05,0.18)(2008.27,0.06)
(2008.56,-0.05)(2008.78,0.13)(2008.97,0.01)(2009.22,0.01)(2009.51,-0.28)(2009.76,-0.33)
(2010.03,-0.45)(2010.25,-0.28)(2010.5,-0.14)(2010.69,-0.07)(2010.83,-0.16)(2011.05,-0.09)
(2011.32,-0.26)(2011.57,-0.21)(2011.82,0.13)(2012.05,0.25)(2012.3,0.48)(2012.52,0.47)
(2012.74,0.51)(2012.96,0.54)(2013.18,0.54)(2013.4,0.52)(2013.62,0.47)(2013.81,0.33)
(2014.06,0.46)(2014.28,0.20)(2014.54,0.35)(2014.79,0.31)(2015.01,0.09)(2015.31,-0.06)
(2015.57,-0.56)(2015.82,-0.46)(2016.07,-0.27)(2016.33,-0.27)(2016.55,-0.23)(2016.77,-0.25)
(2017.1,-0.23)};
\addlegendentry{Female share (right)}
\end{axis}

% ================= titles and notes =================
\node[anchor=base west, font=\ttl, inner sep=0pt] at (17pt,-28.5pt) {Canada};
\node[anchor=base west, font=\ttl, inner sep=0pt] at (327pt,-28.5pt) {Japan};
\node[anchor=base west, font=\ttl, inner sep=0pt] at (17pt,-251.5pt) {France};
\node[anchor=base west, font=\ttl, inner sep=0pt] at (327pt,-251.5pt) {The U.K.};
\node[anchor=base west, font=\ttl, inner sep=0pt] at (17pt,-476pt) {Germany};
\node[anchor=base west, font=\ttl, inner sep=0pt] at (327pt,-476pt) {The U.S.};
\node[anchor=base west, font=\ttl, inner sep=0pt] at (17pt,-703.5pt) {Italy};

\node[font=\corr, inner sep=0pt] at (179.5pt,-66pt) {Correlation: 0.27};
\node[font=\corr, inner sep=0pt] at (523.5pt,-156.5pt) {Correlation:-0.19};
\node[font=\corr, inner sep=0pt] at (95pt,-288.5pt) {Correlation:0.33};
\node[font=\corr, inner sep=0pt] at (490.5pt,-288.5pt) {Correlation:0.06};
\node[font=\corr, inner sep=0pt] at (247.5pt,-507.5pt) {Correlation: 0.14};
\node[font=\corr, inner sep=0pt] at (465pt,-606pt) {Correlation:0.30};
\node[font=\corr, inner sep=0pt] at (110.5pt,-741.5pt) {Correlation: 0.27};

\draw[line width=1.2pt] (0.6pt,-0.6pt) rectangle (639.4pt,-900.9pt);
\end{tikzpicture}
\end{document}
